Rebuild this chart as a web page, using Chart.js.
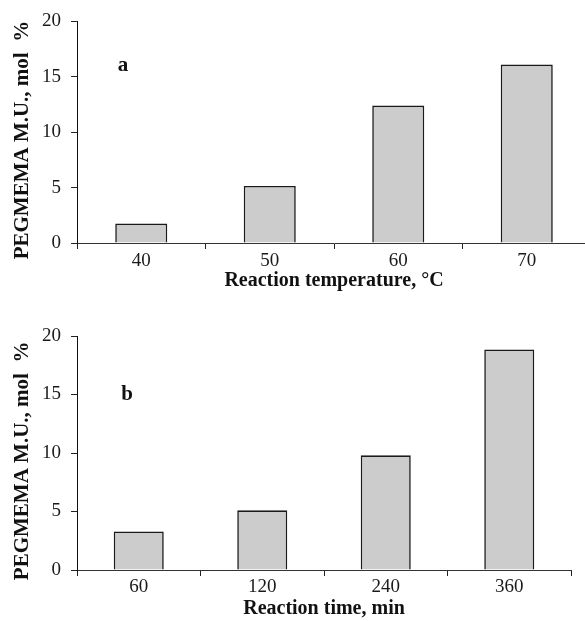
<!DOCTYPE html>
<html>
<head>
<meta charset="utf-8">
<script src="https://cdn.jsdelivr.net/npm/chart.js@4.4.1/dist/chart.umd.min.js"></script>
<style>
  html, body { margin: 0; padding: 0; background: #fff; overflow: hidden; }
  .panel { position: absolute; left: 0; }
</style>
</head>
<body>
<div class="panel" style="top:0"><canvas id="chartA" width="600" height="300"></canvas></div>
<div class="panel" style="top:300px"><canvas id="chartB" width="585" height="321"></canvas></div>
<script>
// panel a: temperature series
const tempLabels = ['40', '50', '60', '70'];
const tempValues = [1.75, 5.15, 12.4, 16.1];
// panel b: time series
const timeLabels = ['60', '120', '240', '360'];
const timeValues = [3.3, 5.1, 9.8, 18.85];
const yTicks = [0, 5, 10, 15, 20];

const serif = "'Liberation Serif', 'Times New Roman', serif";
const yTitle = 'PEGMEMA M.U., mol\u00a0\u00a0%\u00a0\u00a0\u00a0';

// draws the small bold panel letter inside the plot area
const panelLetter = {
    id: 'panelLetter',
    afterDraw(chart, args, opts) {
        const { ctx, chartArea } = chart;
        ctx.save();
        ctx.font = 'bold 21px ' + serif;
        ctx.fillStyle = '#111';
        ctx.textAlign = 'center';
        ctx.textBaseline = 'middle';
        ctx.fillText(opts.text, chartArea.left + opts.dx, chartArea.top + opts.dy);
        ctx.restore();
    }
};

function makeChart(id, labels, values, xTitle, cfg) {
    const ctx = document.getElementById(id).getContext('2d');
    return new Chart(ctx, {
        type: 'bar',
        data: {
            labels: labels,
            datasets: [{
                data: values,
                backgroundColor: '#cccccc',
                borderColor: '#1a1a1a',
                borderWidth: 1.6,
                categoryPercentage: 1,
                barPercentage: 0.405
            }]
        },
        plugins: [panelLetter],
        options: {
            responsive: false,
            animation: false,
            layout: { padding: { top: cfg.top, right: cfg.right, left: 0, bottom: 0 } },
            plugins: {
                legend: { display: false },
                tooltip: { enabled: false },
                panelLetter: { text: cfg.letter, dx: cfg.dx, dy: cfg.dy }
            },
            scales: {
                x: {
                    grid: { drawOnChartArea: false, drawTicks: true, tickLength: 6, color: '#222', offset: true },
                    border: { color: '#333', width: 1 },
                    ticks: { color: '#1a1a1a', padding: cfg.xPad, font: { family: serif, size: 19 } },
                    title: {
                        display: true, text: xTitle, color: '#111',
                        font: { family: serif, size: 20, weight: 'bold' },
                        padding: { top: 0, bottom: cfg.titlePad }
                    },
                    afterFit: (s) => { s.height = cfg.xHeight; }
                },
                y: {
                    min: 0, max: 20,
                    afterBuildTicks: (s) => { s.ticks = yTicks.map(v => ({ value: v })); },
                    grid: { drawOnChartArea: false, drawTicks: true, tickLength: 6, color: '#222' },
                    border: { color: '#111', width: 1 },
                    ticks: { color: '#1a1a1a', padding: 10, font: { family: serif, size: 19 } },
                    title: {
                        display: true, text: yTitle, color: '#111',
                        font: { family: serif, size: 21, weight: 'bold' },
                        padding: { top: 10, bottom: 0 }
                    },
                    afterFit: (s) => { s.width = 77; }
                }
            }
        }
    });
}

makeChart('chartA', tempLabels, tempValues, 'Reaction temperature, \u00b0C',
    { top: 18, right: 9, xHeight: 57, xPad: 1, titlePad: 7, letter: 'a', dx: 46, dy: 44 });
makeChart('chartB', timeLabels, timeValues, 'Reaction time, min',
    { top: 36, right: 14, xHeight: 51, xPad: 0, titlePad: 0, letter: 'b', dx: 50, dy: 59 });
</script>
</body>
</html>
